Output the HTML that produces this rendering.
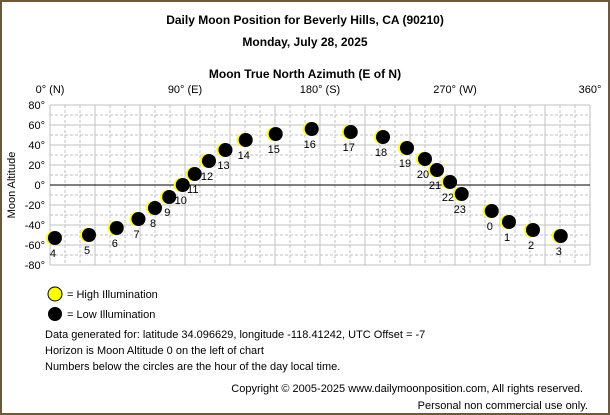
<!DOCTYPE html>
<html><head><meta charset="utf-8"><style>
html,body{margin:0;padding:0;background:#fff}
svg{display:block;font-family:"Liberation Sans",sans-serif}
</style></head><body>
<svg id="c" width="610" height="415" viewBox="0 0 610 415">
<rect x="1" y="1" width="608" height="413" fill="#fff" stroke="#6b5a3a" stroke-width="2"/>
<text x="305" y="24" text-anchor="middle" font-size="12" font-weight="bold">Daily Moon Position for Beverly Hills, CA (90210)</text>
<text x="305" y="46" text-anchor="middle" font-size="12" font-weight="bold">Monday, July 28, 2025</text>
<text x="305" y="78" text-anchor="middle" font-size="12" font-weight="bold">Moon True North Azimuth (E of N)</text>
<text transform="translate(15,185) rotate(-90)" text-anchor="middle" font-size="11">Moon Altitude</text>
<g id="grid"></g>
<g id="ticks"></g>
<g id="marks"></g>
<g>
<circle cx="55" cy="294" r="7" fill="#ffff00" stroke="#000"/>
<text x="67" y="298" font-size="11">= High Illumination</text>
<circle cx="55" cy="314" r="7" fill="#000"/>
<text x="67" y="318" font-size="11">= Low Illumination</text>
</g>
<text x="45" y="338" font-size="11">Data generated for: latitude 34.096629, longitude -118.41242, UTC Offset = -7</text>
<text x="45" y="354" font-size="11">Horizon is Moon Altitude 0 on the left of chart</text>
<text x="45" y="370" font-size="11">Numbers below the circles are the hour of the day local time.</text>
<text x="583" y="392" text-anchor="end" font-size="11">Copyright © 2005-2025 www.dailymoonposition.com, All rights reserved.</text>
<text x="588" y="409" text-anchor="end" font-size="11">Personal non commercial use only.</text>
</svg>
<script>
const hours=[4,5,6,7,8,9,10,11,12,13,14,15,16,17,18,19,20,21,22,23,0,1,2,3];
const azimuths=[3.3,26,44.5,59,70,79.5,88.5,96.5,106,117,130.5,150.5,174.5,200.5,222,238,250,258,266.7,274.5,294.5,306,322,340.5];
const altitudes=[-53,-50,-43,-34,-23,-12,0,11,24,35,45,51,56,53,48,37,26,15,3,-9,-26,-37,-45,-51];
const xTickLabels=["0° (N)","90° (E)","180° (S)","270° (W)","360°"];
const yTickLabels=["80°","60°","40°","20°","0°","-20°","-40°","-60°","-80°"];
const NS="http://www.w3.org/2000/svg";
const X0=50,X1=590,Y0=105,Y1=265;
function xs(a){return X0+(a/360)*(X1-X0);}
function ys(v){return Y0+(80-v)/160*(Y1-Y0);}
function mk(t,at,parent){const e=document.createElementNS(NS,t);for(const k in at)e.setAttribute(k,at[k]);parent.appendChild(e);return e;}
const grid=document.getElementById('grid'),ticks=document.getElementById('ticks'),marks=document.getElementById('marks');
for(let a=0;a<=360;a+=10){
 const l=mk('line',{x1:xs(a),x2:xs(a),y1:Y0,y2:Y1,stroke:'#c0c0c0','stroke-width':1},grid);
 if(a%30!==0)l.setAttribute('stroke-dasharray','3,2');
 
 
}
for(let v=-80;v<=80;v+=10){
 const l=mk('line',{x1:X0,x2:X1,y1:ys(v),y2:ys(v),stroke:v===0?'#000':'#c0c0c0','stroke-width':1},grid);
 if(v%20!==0)l.setAttribute('stroke-dasharray','3,2');
 
 
}
xTickLabels.forEach((s,i)=>{
 const t=mk('text',{x:xs(i*90),y:93,'text-anchor':'middle','font-size':11},ticks);t.textContent=s;
 
 
});
yTickLabels.forEach((s,i)=>{
 const t=mk('text',{x:45,y:ys(80-i*20)+4,'text-anchor':'end','font-size':11},ticks);t.textContent=s;
 
 
});
hours.forEach((h,i)=>{
 const cx=xs(azimuths[i]),cy=ys(altitudes[i]);
 const g=mk('g',{},marks);
 
 
 mk('circle',{cx:cx-2,cy:cy,r:7,fill:'#ffff00'},g);
 mk('circle',{cx:cx,cy:cy,r:7,fill:'#000'},g);
 const t=mk('text',{x:cx-2,y:cy+19,'text-anchor':'middle','font-size':11},g);t.textContent=h;
 
 
});
</script>
</body></html>
